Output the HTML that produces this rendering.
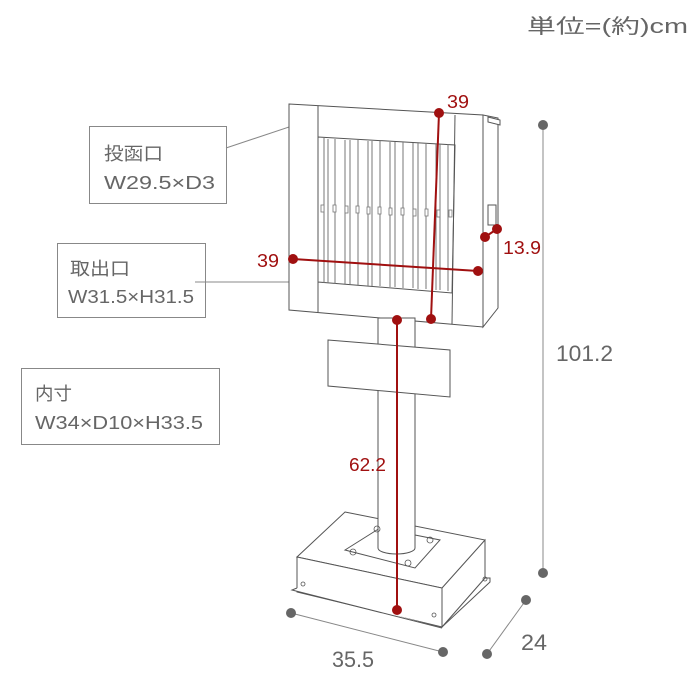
<!DOCTYPE html>
<html><head><meta charset="utf-8"><style>
html,body{margin:0;padding:0;background:#fff;width:700px;height:700px;overflow:hidden}
svg{display:block}
text{font-family:"Liberation Sans","Noto Sans CJK JP",sans-serif}
</style></head><body>
<svg width="700" height="700" viewBox="0 0 700 700">
<text x="527" y="33" font-size="20" fill="#666" textLength="161" lengthAdjust="spacingAndGlyphs">単位=(約)cm</text>

<g fill="none" stroke="#888" stroke-width="1">
<rect x="89.5" y="126.5" width="137" height="77"/>
<rect x="57.5" y="243.5" width="148" height="74"/>
<rect x="21.5" y="368.5" width="198" height="76"/>
<line x1="226" y1="148" x2="301" y2="123"/>
<line x1="195" y1="282" x2="300" y2="282"/>
</g>
<g fill="#666" font-size="18">
<text x="104" y="160" textLength="59" lengthAdjust="spacingAndGlyphs">投函口</text>
<text x="104" y="189" textLength="111" lengthAdjust="spacingAndGlyphs">W29.5×D3</text>
<text x="70" y="275" textLength="60" lengthAdjust="spacingAndGlyphs">取出口</text>
<text x="68" y="303" textLength="126" lengthAdjust="spacingAndGlyphs">W31.5×H31.5</text>
<text x="35" y="400" textLength="37" lengthAdjust="spacingAndGlyphs">内寸</text>
<text x="35" y="429" textLength="168" lengthAdjust="spacingAndGlyphs">W34×D10×H33.5</text>
</g>

<!-- mailbox -->
<g fill="#fff" stroke="#555" stroke-width="1">
<polygon points="483,115 498,118 498,308 483,327"/>
<polygon points="488,117 500,120 500,125 488,122"/>
<polygon points="289,104 483,115 483,327 289,310"/>
<polygon points="318,137 455,145 452,293 318,282"/>
<line x1="318" y1="106" x2="318" y2="312"/>
<line x1="455" y1="115" x2="452" y2="324"/>
<rect x="488" y="205" width="8" height="20"/>
</g>
<g stroke="#777" stroke-width="1" fill="none">
<path d="M324,138V283 M335,139V284 M345,140V284 M358,140V285 M368,141V286 M380,141V286 M390,142V287 M403,142V288 M413,143V288 M426,143V289 M436,144V290 M448,144V291"/>
<path d="M328,139V283 M350,140V284 M372,141V286 M395,142V287 M418,143V289 M440,144V290"/>
</g>
<g fill="#fff" stroke="#777" stroke-width="0.8">
<rect x="321" y="205" width="3" height="7"/><rect x="333" y="205" width="3" height="7"/><rect x="345" y="206" width="3" height="7"/><rect x="356" y="206" width="3" height="7"/><rect x="367" y="207" width="3" height="7"/><rect x="378" y="207" width="3" height="7"/><rect x="389" y="208" width="3" height="7"/><rect x="401" y="208" width="3" height="7"/><rect x="413" y="209" width="3" height="7"/><rect x="425" y="209" width="3" height="7"/><rect x="437" y="210" width="3" height="7"/><rect x="449" y="210" width="3" height="7"/>
</g>

<!-- post and sign -->
<g fill="#fff" stroke="#555" stroke-width="1">
<polygon points="345,512 485,540 485,578 490,578 490,582 442,627 442,588 297,557"/>
<polygon points="297,557 442,588 442,627 297,592"/>
<polygon points="485,540 442,588 442,627 485,578"/>
<path d="M297,588 L292,590 L442,628"/>
<polygon points="345,550 380,528 440,540 415,568"/>
<path d="M378,318 V548 A18.5,6 0 0 0 415,548 V318 Z"/>
<polygon points="328,340 450,350 450,397 328,386"/>
</g>
<g fill="none" stroke="#555" stroke-width="0.8">
<circle cx="353" cy="552" r="3"/><circle cx="430" cy="540" r="3"/><circle cx="408" cy="563" r="3"/><circle cx="377" cy="529" r="3"/>
<circle cx="303" cy="584" r="2"/><circle cx="434" cy="615" r="2"/><circle cx="485" cy="579" r="2"/>
</g>

<!-- red dims -->
<g stroke="#a01010" stroke-width="2" fill="#a01010">
<line x1="439" y1="113" x2="431" y2="319"/>
<line x1="293" y1="259" x2="478" y2="271"/>
<line x1="485" y1="237" x2="497" y2="229"/>
<line x1="397" y1="320" x2="397" y2="610"/>
<circle cx="439" cy="113" r="5" stroke="none"/>
<circle cx="431" cy="319" r="5" stroke="none"/>
<circle cx="293" cy="259" r="5" stroke="none"/>
<circle cx="478" cy="271" r="5" stroke="none"/>
<circle cx="485" cy="237" r="5" stroke="none"/>
<circle cx="497" cy="229" r="5" stroke="none"/>
<circle cx="397" cy="320" r="5" stroke="none"/>
<circle cx="397" cy="610" r="5" stroke="none"/>
</g>
<g fill="#a01010" font-size="18">
<text x="447" y="108" textLength="22" lengthAdjust="spacingAndGlyphs">39</text>
<text x="257" y="267" textLength="22" lengthAdjust="spacingAndGlyphs">39</text>
<text x="503" y="254" textLength="38" lengthAdjust="spacingAndGlyphs">13.9</text>
<text x="349" y="471" textLength="37" lengthAdjust="spacingAndGlyphs">62.2</text>
</g>

<!-- gray dims -->
<g stroke="#888" stroke-width="1" fill="#666">
<line x1="543" y1="125" x2="543" y2="573"/>
<line x1="291" y1="613" x2="443" y2="652"/>
<line x1="487" y1="654" x2="526" y2="600"/>
<circle cx="543" cy="125" r="5" stroke="none"/>
<circle cx="543" cy="573" r="5" stroke="none"/>
<circle cx="291" cy="613" r="5" stroke="none"/>
<circle cx="443" cy="652" r="5" stroke="none"/>
<circle cx="487" cy="654" r="5" stroke="none"/>
<circle cx="526" cy="600" r="5" stroke="none"/>
</g>
<g fill="#666" font-size="22">
<text x="556" y="361" textLength="57" lengthAdjust="spacingAndGlyphs">101.2</text>
<text x="332" y="667" textLength="42" lengthAdjust="spacingAndGlyphs">35.5</text>
<text x="521" y="650" textLength="26" lengthAdjust="spacingAndGlyphs">24</text>
</g>
</svg>
</body></html>
